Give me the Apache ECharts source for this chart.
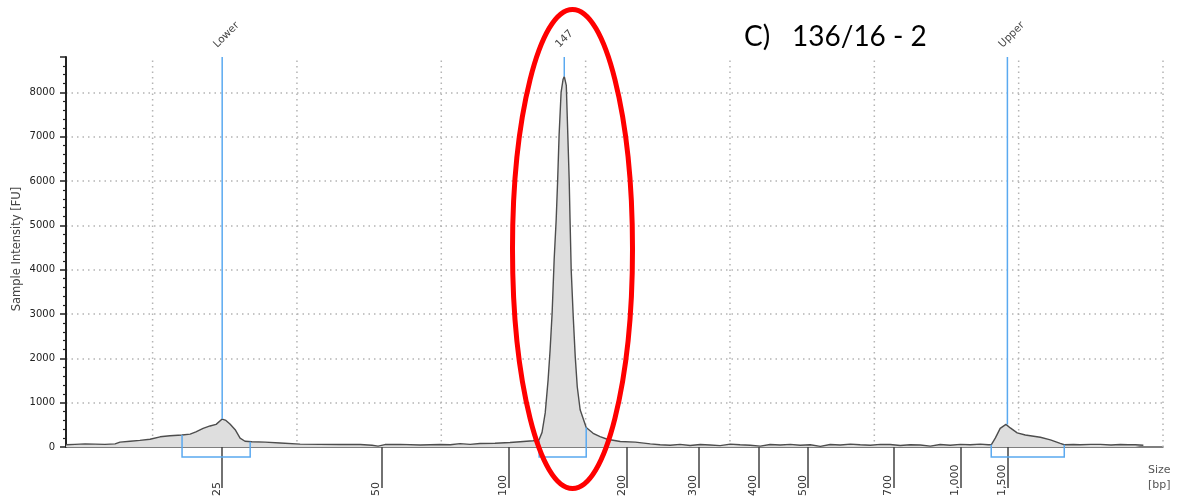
<!DOCTYPE html>
<html>
<head>
<meta charset="utf-8">
<script src="https://cdn.jsdelivr.net/npm/echarts@6/dist/echarts.min.js"></script>
<style>
  html, body { margin: 0; padding: 0; background: #ffffff; }
  #chart { width: 1184px; height: 499px; }
</style>
</head>
<body>
<div id="chart"></div>
<script>
// ---- Data (migration time in seconds vs. fluorescence units) ----
const migrationSec = [
  42.00, 42.31, 42.66, 43.01, 43.35, 43.70, 43.87, 44.22, 44.56, 44.91,
  45.26, 45.60, 46.02, 46.30, 46.50, 46.75, 46.99, 47.20, 47.41, 47.54,
  47.68, 47.86, 48.03, 48.20, 48.44, 48.90, 49.42, 50.11, 50.80, 51.49,
  52.19, 52.60, 52.81, 53.05, 53.57, 54.27, 54.96, 55.31, 55.65, 56.00,
  56.34, 56.86, 57.38, 57.73, 58.18, 58.39, 58.49, 58.60, 58.70, 58.77,
  58.84, 58.91, 58.98, 59.03, 59.08, 59.15, 59.22, 59.26, 59.33, 59.38,
  59.43, 59.46, 59.50, 59.57, 59.64, 59.71, 59.81, 60.02, 60.26, 60.50,
  60.75, 61.20, 61.72, 62.24, 62.58, 62.93, 63.27, 63.62, 63.97, 64.31,
  64.66, 65.01, 65.35, 65.70, 66.05, 66.39, 66.74, 67.09, 67.43, 67.78,
  68.13, 68.47, 68.82, 69.17, 69.51, 69.86, 70.21, 70.55, 70.90, 71.24,
  71.59, 71.94, 72.28, 72.63, 72.98, 73.32, 73.67, 73.95, 74.05, 74.19,
  74.36, 74.56, 74.71, 74.95, 75.23, 75.75, 76.10, 76.44, 76.58, 76.90,
  77.13, 77.50, 77.83, 78.20, 78.52, 78.80, 79.04, 79.32
];
const intensityFU = [
  50, 60, 70, 65, 60, 70, 110, 130, 150, 175,
  230, 255, 270, 290, 340, 420, 475, 510, 630, 600,
  520, 390, 200, 130, 120, 110, 90, 65, 60, 55,
  55, 40, 20, 55, 60, 45, 55, 50, 75, 60,
  80, 85, 100, 120, 140, 170, 330, 770, 1515, 2195,
  3030, 4230, 5135, 6000, 7020, 8000, 8300, 8360, 8160, 7100,
  6040, 5135, 4000, 2950, 2040, 1360, 840, 440, 310, 235,
  175, 125, 110, 70, 50, 40, 60, 35, 55, 45,
  30, 65, 50, 40, 20, 55, 45, 60, 40, 50,
  15, 55, 45, 65, 50, 40, 60, 55, 35, 50,
  45, 20, 55, 40, 60, 50, 65, 50, 50, 200,
  420, 510, 430, 320, 270, 220, 160, 80, 50, 55,
  50, 60, 60, 45, 55, 50, 50, 40
];

// ladder (size) ticks
const ladderSec = [47.41, 52.95, 57.35, 61.44, 63.93, 65.98, 67.71, 70.66, 72.98, 74.61];
const ladderBp  = ['25', '50', '100', '200', '300', '400', '500', '700', '1,000', '1,500'];

// peak markers
const markerNames = ['Lower', '147', 'Upper'];
const markerSec   = [47.41, 59.26, 74.61];
const markerFU    = [630, 8360, 510];

// peak region brackets
const bracketStartSec = [46.02, 58.39, 74.05];
const bracketEndSec   = [48.38, 60.02, 76.58];
const bracketStartFU  = [270, 160, 50];
const bracketEndFU    = [120, 440, 50];

// vertical time grid
const gridSec = [45, 50, 55, 60, 65, 70, 75, 80];

const Y_MAX = 8800;
const X_MIN = 42, X_MAX = 80;

const ladderMap = {};
ladderSec.forEach((s, i) => { ladderMap[s.toFixed(2)] = ladderBp[i]; });

const chart = echarts.init(document.getElementById('chart'));

const dotted = { color: '#b4b4b4', width: 1.5, type: [1.5, 4] };
const blue = '#5aa9f0';

const option = {
  animation: false,
  backgroundColor: '#ffffff',
  grid: { left: 66, right: 21, top: 57, bottom: 52, containLabel: false },
  xAxis: [
    {
      type: 'value', min: X_MIN, max: X_MAX,
      axisLine: { show: true, onZero: false, lineStyle: { color: '#555', width: 1.5 } },
      axisTick: { show: false },
      axisLabel: { show: false },
      splitLine: { show: false }
    },
    {
      type: 'value', min: X_MIN, max: X_MAX, position: 'bottom', offset: 11,
      axisLine: { show: false },
      splitLine: { show: false },
      axisTick: { show: true, customValues: ladderSec, length: 41,
        lineStyle: { color: '#444', width: 1.5 } },
      axisLabel: {
        show: true, customValues: ladderSec, rotate: 90,
        align: 'left', verticalAlign: 'bottom', margin: 38,
        fontFamily: 'DejaVu Sans', fontSize: 11, color: '#333',
        formatter: v => ladderMap[Number(v).toFixed(2)] || ''
      }
    }
  ],
  yAxis: {
    type: 'value', min: 0, max: Y_MAX, interval: 1000,
    axisLine: { show: true, lineStyle: { color: '#222', width: 2 } },
    axisTick: { show: true, length: 6, lineStyle: { color: '#222', width: 1.5 } },
    minorTick: { show: true, splitNumber: 5, length: 3, lineStyle: { color: '#222', width: 1.2 } },
    axisLabel: {
      margin: 11, fontFamily: 'DejaVu Sans', fontSize: 10, color: '#222',
      showMaxLabel: false,
      formatter: v => (v % 1000 === 0 ? String(v) : '')
    },
    splitLine: { show: true, showMinLine: false, showMaxLine: false, lineStyle: dotted }
  },
  series: [
    {
      type: 'custom', name: 'timegrid', z: 1, silent: true,
      xAxisIndex: 0,
      data: gridSec.map(s => [s, 0]),
      renderItem: (params, api) => {
        const p0 = api.coord([api.value(0), 0]);
        const p1 = api.coord([api.value(0), Y_MAX]);
        return { type: 'line', shape: { x1: p0[0], y1: p0[1], x2: p1[0], y2: p1[1] },
          style: { stroke: dotted.color, lineWidth: dotted.width, lineDash: dotted.type } };
      }
    },
    {
      type: 'line', name: 'trace', z: 3, xAxisIndex: 0,
      data: migrationSec.map((s, i) => [s, intensityFU[i]]),
      symbol: 'none', smooth: false,
      lineStyle: { color: '#4d4d4d', width: 1.4 },
      areaStyle: { color: '#dedede', opacity: 1 }
    },
    {
      type: 'custom', name: 'markers', z: 4, silent: true, xAxisIndex: 0,
      data: markerSec.map((s, i) => [s, markerFU[i], i]),
      renderItem: (params, api) => {
        const p0 = api.coord([api.value(0), api.value(1)]);
        const p1 = api.coord([api.value(0), Y_MAX]);
        const name = markerNames[api.value(2)];
        return {
          type: 'group',
          children: [
            { type: 'line', shape: { x1: p0[0], y1: p0[1], x2: p1[0], y2: p1[1] },
              style: { stroke: blue, lineWidth: 1.5 } },
            { type: 'text', x: p1[0] - 3, y: p1[1] - 7, rotation: Math.PI / 4,
              style: { text: name, fill: '#444', font: '10.5px "DejaVu Sans"',
                align: 'left', verticalAlign: 'bottom' } }
          ]
        };
      }
    },
    {
      type: 'custom', name: 'brackets', z: 4, silent: true, xAxisIndex: 0, clip: false,
      data: bracketStartSec.map((s, i) => [s, bracketEndSec[i], bracketStartFU[i], bracketEndFU[i]]),
      renderItem: (params, api) => {
        const a = api.coord([api.value(0), api.value(2)]);
        const b = api.coord([api.value(1), api.value(3)]);
        const base = api.coord([api.value(0), 0])[1] + 10;
        return { type: 'polyline',
          shape: { points: [[a[0], a[1]], [a[0], base], [b[0], base], [b[0], b[1]]] },
          style: { stroke: blue, lineWidth: 1.5, fill: null } };
      }
    }
  ],
  graphic: [
    { type: 'text', x: 17.5, y: 249, rotation: Math.PI / 2, z: 50,
      style: { text: 'Sample Intensity [FU]', font: '11.5px "DejaVu Sans"', fill: '#444',
        align: 'center', verticalAlign: 'middle' } },
    { type: 'text', left: 744, top: 23, z: 50,
      style: { text: 'C)', font: '28px Lato', fill: '#000' } },
    { type: 'text', left: 792, top: 23, z: 50,
      style: { text: '136/16 - 2', font: '28px Lato', fill: '#000' } },
    { type: 'text', left: 1148, top: 463, z: 50,
      style: { text: 'Size\n[bp]', font: '11px "DejaVu Sans"', fill: '#555',
        align: 'center', lineHeight: 15 } },
    { type: 'ellipse', z: 100, silent: true,
      shape: { cx: 572.5, cy: 249, rx: 60, ry: 239.5 },
      style: { fill: null, stroke: '#ff0000', lineWidth: 5 } }
  ]
};

chart.setOption(option);
</script>
</body>
</html>
